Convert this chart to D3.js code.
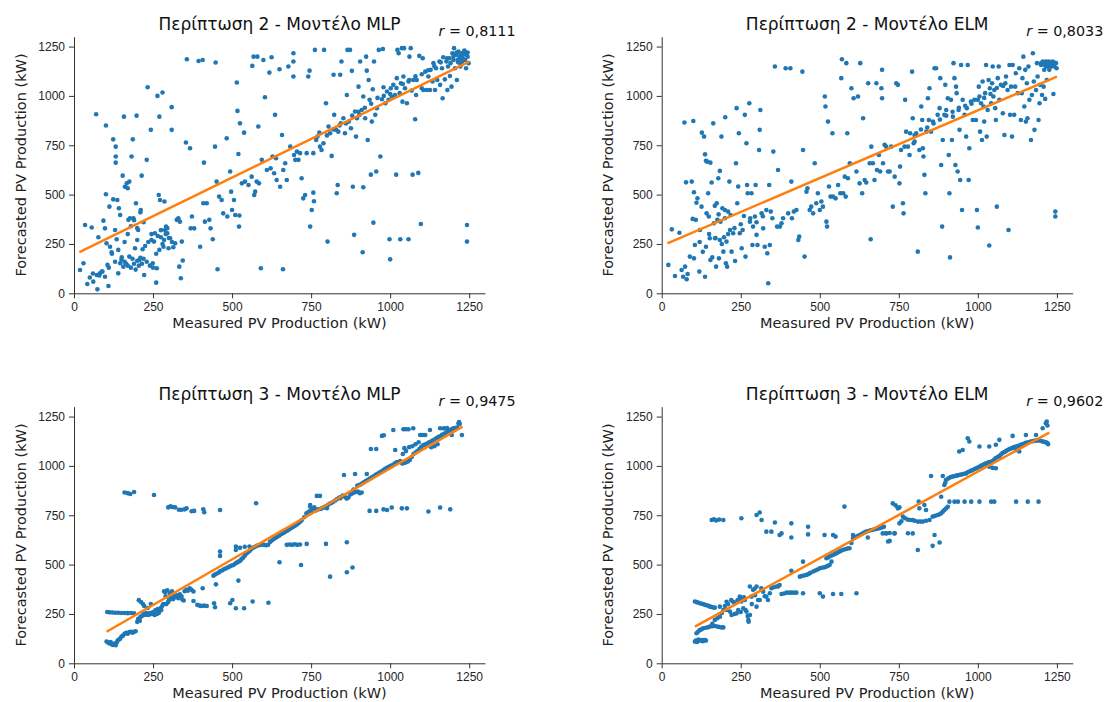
<!DOCTYPE html>
<html>
<head>
<meta charset="utf-8">
<script src="https://cdn.jsdelivr.net/npm/d3@7"></script>
<style>
  body { margin: 0; background: #fff; }
  svg { font-family: "DejaVu Sans", sans-serif; }
  .tick text { fill: #262626; font-size: 12px; }
  .domain, .tick line { stroke: #333; }
</style>
</head>
<body>
<div id="Area"></div>
<script>
// measured vs forecasted (kW)
var p2mlp = [[19,118],[30,152],[35,346],[42,47],[56,333],[61,59],[70,907],[72,93],[74,20],[77,284],[82,101],[88,110],[93,368],[98,329],[98,84],[101,850],[101,502],[103,253],[106,144],[109,37],[112,439],[114,236],[119,208],[124,780],[124,476],[130,321],[132,743],[132,693],[132,662],[135,274],[137,473],[140,101],[142,431],[146,397],[146,152],[151,182],[154,596],[156,135],[158,895],[161,540],[167,557],[170,532],[175,566],[172,372],[175,186],[177,380],[182,693],[186,780],[188,380],[193,228],[196,456],[198,900],[200,270],[203,321],[207,169],[211,422],[214,596],[217,223],[222,93],[230,676],[233,1044],[243,828],[245,270],[249,152],[253,262],[256,304],[260,54],[262,127],[264,1000],[268,498],[270,895],[272,473],[275,284],[280,1017],[283,236],[286,465],[288,321],[291,338],[295,304],[299,228],[304,279],[309,943],[309,828],[314,233],[320,253],[325,372],[330,380],[333,135],[335,363],[338,76],[341,262],[344,166],[354,764],[357,1186],[367,735],[369,329],[373,389],[380,329],[394,1177],[399,236],[407,1182],[409,456],[411,662],[414,363],[420,456],[428,372],[432,329],[439,274],[446,743],[448,1169],[451,566],[454,122],[459,490],[467,473],[472,405],[483,785],[485,389],[494,617],[497,515],[500,422],[506,473],[510,397],[515,1068],[517,924],[520,706],[522,338],[523,394],[525,861],[531,557],[538,814],[541,566],[552,549],[562,591],[564,1152],[568,1199],[570,498],[573,515],[578,566],[580,1199],[583,845],[585,557],[591,127],[594,676],[599,1182],[604,993],[610,625],[618,1118],[622,633],[625,1196],[628,693],[633,608],[636,904],[639,684],[641,574],[650,1135],[652,540],[658,802],[661,122],[662,625],[668,659],[673,574],[678,1149],[684,743],[694,1216],[694,1174],[694,1098],[696,701],[700,676],[705,718],[710,676],[715,710],[720,583],[725,481],[731,498],[736,710],[741,1098],[745,1128],[747,338],[752,422],[757,710],[757,510],[759,466],[762,1233],[766,777],[770,794],[776,814],[778,743],[783,726],[789,760],[791,1233],[797,963],[802,262],[805,845],[810,811],[815,696],[821,1107],[823,904],[829,828],[831,507],[834,549],[836,819],[842,1107],[844,861],[846,1174],[852,887],[857,811],[863,1005],[865,1233],[869,870],[873,1233],[876,836],[879,1127],[882,540],[886,296],[889,921],[892,794],[895,887],[900,1047],[903,904],[905,1174],[910,929],[913,208],[915,997],[915,537],[921,887],[924,1199],[926,1128],[929,777],[932,1081],[935,980],[939,601],[942,870],[945,1034],[947,358],[949,1174],[953,904],[956,617],[958,938],[964,1233],[969,693],[974,983],[977,1238],[979,1044],[985,963],[990,1022],[995,980],[998,274],[1000,172],[1002,1039],[1005,997],[1010,1056],[1015,1005],[1019,601],[1021,1090],[1023,1233],[1027,1216],[1030,1014],[1032,274],[1034,1064],[1037,1242],[1039,971],[1042,1098],[1044,1242],[1047,1039],[1053,963],[1058,274],[1058,1073],[1061,1199],[1065,1242],[1068,1027],[1071,601],[1073,1081],[1079,882],[1082,1005],[1084,1081],[1089,610],[1092,1203],[1097,351],[1100,1039],[1103,1191],[1105,1030],[1111,1123],[1116,1030],[1121,1098],[1126,1030],[1128,1132],[1134,1073],[1137,1166],[1142,1030],[1145,1140],[1149,1081],[1156,1174],[1158,1056],[1164,1140],[1166,988],[1168,1196],[1173,1084],[1178,1174],[1181,1030],[1183,1149],[1187,1191],[1189,1101],[1191,1166],[1194,1047],[1197,1216],[1200,1182],[1202,1242],[1205,1140],[1209,1208],[1211,1081],[1213,1182],[1216,1225],[1219,1191],[1222,1149],[1224,1216],[1227,1174],[1230,1208],[1234,1225],[1237,1182],[1240,1140],[1243,346],[1243,262],[1245,1199],[1248,1166],
  [150,170],[160,160],[165,150],[170,140],[180,130],[185,175],[190,150],[195,120],[200,165],[205,140],[210,180],[215,150],[220,175],[230,160],[240,140],[250,130],[260,200],[270,220],[280,250],[290,300],[295,330],[300,280],[310,260],[265,290],[275,320],[285,270],[245,300],[235,260],[225,240],[120,200],[130,160],[140,220],[110,130],[90,110],[80,90],[160,260],[170,300],[180,340],[190,370],[200,330],[210,410],[220,360],[60,100],[50,80],
  [800,800],[820,830],[840,850],[860,860],[880,900],[900,920],[920,940],[940,960],[960,990],[980,1000],[1000,1010],[1020,1040],[1040,1060],[1060,1080],[1080,1100],[1100,1110],[1120,1130],[1140,1150],[1160,1170],[1180,1190],[1200,1200],[1220,1200],[1210,1220],[1230,1190],[1240,1210],[1245,1220],[1235,1230],[1225,1160],[1215,1170]];

var p2elm = [[21,144],[32,324],[42,88],[56,307],[63,118],[68,84],[72,865],[74,135],[77,562],[79,71],[82,98],[89,186],[95,566],[98,377],[100,873],[102,177],[102,512],[105,245],[108,372],[110,459],[113,481],[119,110],[121,321],[126,439],[127,814],[134,794],[137,704],[137,84],[140,671],[140,236],[142,405],[144,667],[147,507],[149,389],[152,279],[154,662],[154,169],[158,561],[160,182],[163,861],[165,355],[168,443],[169,279],[172,135],[174,456],[176,372],[179,583],[181,177],[184,620],[184,270],[186,363],[189,794],[192,431],[195,211],[197,284],[200,422],[201,892],[203,152],[205,262],[207,135],[210,414],[214,566],[216,321],[218,397],[221,211],[226,304],[232,164],[235,659],[237,938],[239,456],[242,541],[244,811],[247,304],[253,228],[256,321],[260,392],[263,904],[265,186],[268,760],[270,549],[272,507],[277,963],[279,363],[284,507],[287,245],[289,338],[295,389],[297,549],[300,296],[303,245],[308,726],[310,828],[312,929],[316,405],[321,329],[326,236],[331,422],[334,203],[337,51],[340,549],[342,245],[345,414],[353,718],[358,1149],[365,338],[368,625],[374,338],[379,355],[384,380],[392,1140],[400,405],[407,1140],[410,566],[412,380],[418,414],[426,422],[432,270],[435,287],[445,1123],[447,726],[452,186],[458,515],[461,532],[468,422],[473,439],[479,405],[484,659],[489,456],[494,507],[500,422],[505,465],[510,439],[516,997],[518,946],[521,363],[523,338],[526,870],[529,541],[534,490],[540,811],[542,490],[550,481],[558,549],[565,507],[568,1090],[570,1186],[574,507],[579,591],[582,490],[584,1166],[587,811],[589,583],[595,659],[600,1039],[607,988],[616,617],[621,997],[626,557],[628,1166],[634,507],[637,887],[642,574],[647,561],[653,1064],[658,659],[661,274],[663,743],[668,659],[673,574],[679,1064],[681,625],[687,701],[691,617],[695,1039],[697,988],[697,1132],[700,659],[705,752],[710,743],[716,617],[721,617],[726,743],[731,439],[737,591],[742,1064],[747,1056],[752,557],[754,642],[757,726],[763,456],[765,405],[768,743],[770,980],[773,819],[779,743],[784,701],[786,811],[792,1123],[794,887],[797,760],[800,769],[805,811],[810,211],[815,726],[821,946],[824,878],[826,735],[828,693],[831,600],[834,507],[837,819],[842,988],[845,878],[847,1039],[852,819],[858,870],[863,1140],[868,1140],[873,904],[879,938],[881,1090],[884,650],[887,338],[889,777],[894,904],[897,1056],[900,929],[905,988],[908,701],[910,507],[912,182],[915,980],[918,777],[921,895],[923,1166],[926,1090],[929,650],[931,1047],[933,1014],[936,617],[939,929],[942,828],[944,574],[947,1157],[950,422],[952,980],[958,904],[963,794],[965,938],[968,1157],[971,574],[973,735],[978,971],[984,878],[989,980],[994,878],[997,422],[1000,333],[1003,1047],[1005,997],[1007,819],[1010,963],[1013,777],[1015,1073],[1018,946],[1020,870],[1023,1014],[1026,1157],[1028,794],[1031,929],[1034,1081],[1036,242],[1038,1039],[1042,963],[1045,1064],[1047,1149],[1049,997],[1052,1030],[1055,938],[1057,878],[1060,439],[1063,1090],[1066,1149],[1068,980],[1073,1056],[1079,912],[1084,802],[1087,1064],[1089,1098],[1094,1030],[1097,321],[1100,1157],[1102,904],[1105,1047],[1108,794],[1110,1157],[1115,904],[1118,1047],[1120,1115],[1126,1014],[1131,1140],[1136,878],[1139,1014],[1141,1090],[1144,1199],[1147,946],[1150,1132],[1152,870],[1155,1064],[1157,887],[1160,1149],[1163,980],[1168,777],[1171,1005],[1174,1216],[1177,1073],[1179,828],[1184,1030],[1187,1166],[1189,1098],[1192,878],[1195,963],[1197,1056],[1200,1157],[1203,1005],[1205,1174],[1208,1047],[1210,1132],[1213,985],[1215,1174],[1218,1081],[1221,1149],[1224,1174],[1226,1132],[1229,1166],[1232,1149],[1236,1174],[1239,1010],[1242,1149],[1245,414],[1245,389],[1247,1166],[1249,1140],
  [800,800],[820,830],[840,840],[860,860],[880,880],[900,900],[920,920],[940,940],[960,950],[980,960],[1000,980],[1020,990],[1040,1010],[1060,1040],[1080,1050],[1200,1165],[1210,1160],[1220,1165],[1230,1160],[1240,1170],[1215,1150],[1225,1145],[1235,1155],[150,300],[170,280],[190,250],[210,300],[230,330],[250,350],[280,380],[300,360],[320,390],[350,380],[180,400],[200,380],[120,260],[130,210]];

var p3mlp = [[105,260],[113,258],[122,257],[131,256],[140,256],[150,255],[160,255],[170,254],[180,255],[190,253],
  [103,110],[108,105],[112,100],[116,108],[120,95],[124,93],[128,100],[132,92],[135,105],[138,115],[142,120],[146,125],[150,135],[155,140],[160,150],[165,155],[170,150],[175,158],[180,160],[185,155],[190,160],[195,162],
  [200,210],[203,225],[205,320],[208,215],[210,235],[212,310],[215,240],[218,300],[220,250],[222,290],[225,245],[228,255],[230,250],[233,280],[236,245],[240,255],[243,300],[246,250],[250,260],[255,245],[258,270],[262,250],[265,275],[268,255],[270,262],[274,280],[276,270],[279,290],[282,300],[285,365],[288,360],[290,340],[292,300],[295,370],[298,310],[300,320],[303,355],[306,330],[310,365],[313,325],[316,340],[320,335],[325,345],[330,330],[335,350],[340,340],[343,322],[347,318],[350,365],[355,372],[360,368],[366,380],[372,372],[378,364],
  [160,865],[170,862],[178,858],[190,868],[253,853],[298,790],[305,795],[312,792],[320,790],[332,778],[340,778],[350,780],[356,785],[372,770],[380,772],[409,780],[412,765],[462,777],[576,811],
  [378,316],[390,296],[398,292],[404,290],[412,292],[420,290],[443,304],[446,284],[494,304],[501,321],[512,279],[538,279],[565,313],[615,307],[520,419],[449,400],[407,380],
  [441,444],[446,450],[452,455],[458,460],[462,466],[468,470],[474,476],[480,480],[486,485],[492,490],[498,495],[504,498],[510,505],[515,510],[520,515],[526,520],[530,528],[535,535],[540,545],[545,555],[550,562],[556,570],[560,578],[566,585],[572,590],[578,595],[584,598],[590,600],[596,602],[602,600],[608,598],[614,600],[462,566],[462,544],[512,591],[512,574],[525,585],[540,590],[555,592],
  [620,615],[626,622],[632,630],[638,636],[644,642],[650,648],[656,655],[662,660],[668,666],[674,672],[680,678],[686,684],[692,690],[698,696],[704,702],[710,710],[716,718],[720,725],[673,600],[682,602],[690,600],[698,603],[706,600],[715,602],[736,605],[797,605],[863,613],[650,512],[718,498],[810,439],[863,461],[881,485],
  [728,740],[735,760],[742,768],[748,772],[755,778],[760,790],[766,775],[772,780],[778,782],[784,785],[790,790],[796,795],[802,800],[808,808],[814,812],[820,818],[826,825],[832,832],[838,838],[844,842],[850,850],[856,845],[862,835],[868,840],[874,855],[880,860],[886,865],[892,868],[898,870],[904,862],[910,865],[747,794],[768,848],[778,848],[747,802],[800,786],[842,836],[863,836],[884,880],[896,900],
  [905,905],[912,912],[918,918],[924,925],[930,930],[936,936],[942,942],[948,948],[954,955],[960,960],[966,966],[972,972],[978,978],[984,985],[990,990],[996,996],[1002,1000],[1008,1005],[1014,1012],[1020,1018],[1026,1020],[1032,1025],[1038,1012],[1044,1015],[1050,1018],[1056,1022],[1062,1030],[1068,1045],[1074,1060],[1080,1068],[1086,1075],[1092,1085],[1098,1095],[1104,1105],[1110,1108],[1116,1112],[1040,1060],[1050,1075],[1045,1090],[1060,1095],[1070,1100],[1080,1110],[1090,1120],[854,954],[889,959],[926,959],[974,1152],[980,1155],[1010,1182],[1042,1186],[1050,1186],[1058,1186],[1073,1191],[939,1086],[956,1086],[1016,1081],[1095,1157],[1103,1157],[1111,1157],[1126,1182],[1158,1191],
  [935,772],[956,772],[979,780],[990,777],[1005,789],[1037,785],[1053,785],[1121,769],[1158,789],[1190,780],
  [1122,1118],[1128,1122],[1134,1128],[1140,1134],[1146,1140],[1152,1146],[1158,1150],[1164,1158],[1170,1162],[1176,1168],[1182,1175],[1188,1180],[1194,1185],[1200,1190],[1206,1192],[1212,1195],[1216,1215],[1218,1222],[1220,1212],[1227,1157],[1195,1157],[1170,1190],[1180,1192],[1140,1100],[1150,1110],[1130,1095]];

var p3elm = [[105,313],[110,310],[115,308],[121,304],[127,302],[132,299],[137,296],[142,294],[148,291],[153,287],[158,285],[163,283],[168,282],
  [105,110],[108,115],[112,108],[116,120],[121,115],[126,118],[130,112],[134,118],[137,118],[140,115],
  [110,152],[115,160],[120,168],[126,172],[131,177],[140,180],[147,183],[152,186],[160,188],[168,189],[176,186],[182,184],[189,181],[195,182],[160,200],[168,220],[176,228],[184,236],[190,255],[195,270],
  [184,287],[200,290],[205,312],[205,270],[210,300],[216,262],[221,245],[226,312],[230,305],[237,253],[242,270],[247,321],[247,338],[252,313],[258,279],[263,321],[268,262],[272,240],[274,220],[275,211],[279,245],[279,389],[284,338],[289,372],[294,378],[300,389],[305,321],[300,287],[310,321],[315,380],[321,363],[326,340],[331,338],[336,321],[342,355],[347,380],[355,385],[363,389],[368,389],[373,397],[250,330],[260,335],[240,320],[220,320],[230,250],[250,260],[265,270],[285,300],[295,345],
  [158,726],[165,730],[172,724],[182,728],[195,726],[252,735],[300,751],[310,764],[316,726],[331,667],[347,667],[358,713],[373,650],[379,658],[410,709],[410,637],[463,692],[463,653],[515,650],[542,650],[550,642],[578,794],[605,650],[652,637],
  [379,351],[387,354],[395,358],[403,358],[410,358],[418,358],[426,358],[447,355],[500,355],[510,338],[542,351],[568,351],[616,355],
  [410,469],[447,515],[437,439],[443,442],[450,445],[458,448],[464,452],[470,458],[479,465],[486,470],[493,475],[500,481],[507,484],[514,486],[521,490],[526,494],[531,498],[537,515],[521,532],[526,536],[531,541],[537,546],[543,550],[548,555],[552,557],[558,562],[563,567],[568,571],[573,574],[580,578],[587,581],[594,583],[600,610],[605,633],[612,640],[619,645],[626,650],[633,656],[640,662],[647,667],[654,670],[661,674],[668,676],[675,680],[682,682],[689,684],[696,688],[703,692],[710,659],
  [699,658],[710,658],[721,660],[736,658],[721,620],[752,709],[758,720],[763,743],[770,735],[778,728],[786,726],[794,726],[800,722],[810,718],[818,718],[826,718],[836,722],[847,726],[857,743],[865,747],[873,751],[879,755],[884,760],[889,768],[894,777],[900,785],[905,793],[910,819],[794,658],[810,574],[863,650],[857,595],[879,612],[716,617],[737,659],[779,659],
  [731,810],[740,800],[747,785],[752,790],[813,819],[815,785],[831,802],[836,777],[852,949],[889,949],[884,844],
  [926,819],[937,819],[958,819],[979,819],[1005,819],[1042,819],[1052,819],[1121,819],[1158,819],[1192,819],
  [894,903],[897,915],[899,929],[905,935],[910,940],[915,944],[920,946],[925,948],[930,950],[935,952],[941,954],[946,956],[952,958],[957,960],[963,962],[968,968],[973,972],[979,976],[984,979],[990,984],[995,988],[1000,992],[1005,996],[1010,1000],[1015,1005],[1021,1009],[1026,1013],[1031,1016],[1036,1019],[1042,1021],[1047,1025],[1052,1032],[1057,1040],[1063,1045],[1068,1050],[1073,1058],[1078,1065],[1084,1070],[1089,1075],[1094,1080],[1100,1085],[1105,1088],[1110,1092],[1115,1095],[1121,1098],[1126,1100],[1131,1103],[1136,1107],[1141,1110],[1147,1113],[1152,1117],[1157,1119],[1163,1121],[1168,1124],[1173,1125],[1178,1127],[1184,1128],[1189,1130],[1194,1129],[1200,1126],[1205,1124],[1210,1122],[1215,1120],[1220,1116],[1036,996],[1047,990],[1057,988],[1131,1073],[1120,1080],
  [968,1140],[973,1124],[941,1073],[952,1081],[1005,1098],[1036,1098],[1057,1107],[1068,1132],[1110,1152],[1152,1157],[1184,1157],[1205,1191],[1215,1216],[1220,1205],[1218,1225],[1222,1110]];

// fitted lines, end points [measured, forecasted]
var fit2mlp = [[17,208],[1250,1174]];
var fit2elm = [[18,253],[1250,1098]];
var fit3mlp = [[103,160],[1229,1199]];
var fit3elm = [[105,186],[1226,1169]];

var titles = ["Περίπτωση 2 - Μοντέλο MLP", "Περίπτωση 2 - Μοντέλο ELM",
              "Περίπτωση 3 - Μοντέλο MLP", "Περίπτωση 3 - Μοντέλο ELM"];
var rValues = ["0,8111", "0,8033", "0,9475", "0,9602"];
var ticks = [0, 250, 500, 750, 1000, 1250];

var panels = [
  {title: titles[0], r: rValues[0], pts: p2mlp, fit: fit2mlp, left: 74,    top: 36.7},
  {title: titles[1], r: rValues[1], pts: p2elm, fit: fit2elm, left: 661.7, top: 36.7},
  {title: titles[2], r: rValues[2], pts: p3mlp, fit: fit3mlp, left: 74,    top: 406.7},
  {title: titles[3], r: rValues[3], pts: p3elm, fit: fit3elm, left: 661.7, top: 406.7}
];

var width = 411, height = 256.6;

var svg = d3.select("#Area")
  .append("svg")
    .attr("width", 1111)
    .attr("height", 702);

var x = d3.scaleLinear().domain([0, 1300]).range([0, width]);
var y = d3.scaleLinear().domain([0, 1300]).range([height, 0]);

panels.forEach(function(p) {
  var g = svg.append("g")
    .attr("transform", "translate(" + p.left + "," + p.top + ")");

  g.append("g")
    .attr("transform", "translate(0," + height + ")")
    .call(d3.axisBottom(x).tickValues(ticks).tickFormat(d3.format("d")).tickSize(5).tickSizeOuter(0).tickPadding(4.5))
    .call(function(a) { a.selectAll("text").style("font-size", "12px"); });

  g.append("g")
    .call(d3.axisLeft(y).tickValues(ticks).tickFormat(d3.format("d")).tickSize(5).tickSizeOuter(0).tickPadding(4))
    .call(function(a) { a.selectAll("text").style("font-size", "12px"); });

  g.selectAll("circle")
    .data(p.pts)
    .enter()
    .append("circle")
    .attr("cx", function(d) { return x(d[0]); })
    .attr("cy", function(d) { return y(d[1]); })
    .attr("r", 2.3)
    .attr("fill", "#1f77b4");

  g.append("path")
    .datum(p.fit)
    .attr("d", d3.line()
      .x(function(d) { return x(d[0]); })
      .y(function(d) { return y(d[1]); }))
    .attr("stroke", "#ff7f0e")
    .attr("stroke-width", 2.5)
    .attr("fill", "none");

  g.append("text")
    .attr("x", width / 2)
    .attr("y", -6.7)
    .attr("text-anchor", "middle")
    .style("font-size", "17px")
    .attr("fill", "#111")
    .text(p.title);

  var rt = g.append("text")
    .attr("x", width * 0.887)
    .attr("y", -1)
    .style("font-size", "14.3px")
    .attr("fill", "#111");
  rt.append("tspan").style("font-style", "italic").text("r");
  rt.append("tspan").text(" = " + p.r);

  g.append("text")
    .attr("x", width / 2)
    .attr("y", height + 34.7)
    .attr("text-anchor", "middle")
    .style("font-size", "14.5px")
    .attr("fill", "#222")
    .text("Measured PV Production (kW)");

  g.append("text")
    .attr("transform", "translate(-53," + (height / 2) + ") rotate(-90)")
    .attr("dy", "0.32em")
    .attr("text-anchor", "middle")
    .style("font-size", "14.5px")
    .attr("fill", "#222")
    .text("Forecasted PV Production (kW)");
});
</script>
</body>
</html>
